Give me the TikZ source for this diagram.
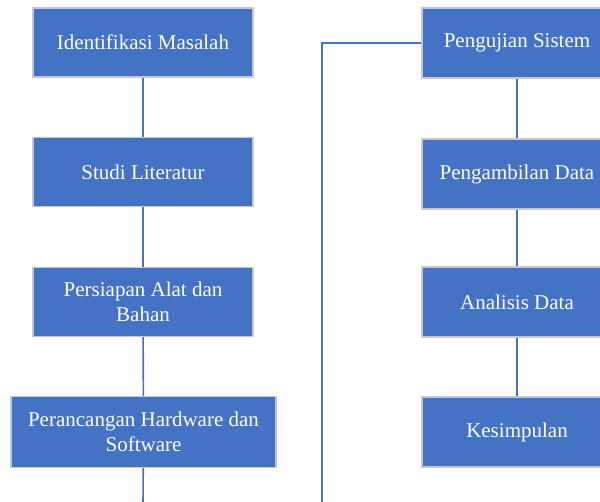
\documentclass[tikz,border=0pt]{standalone}
\usepackage{fontspec}
\setmainfont{Liberation Serif}
\usetikzlibrary{positioning, calc}

\definecolor{stepblue}{HTML}{4472C4}
\definecolor{stepedge}{HTML}{C8C8C8}

\begin{document}
\begin{tikzpicture}[x=1pt, y=-1pt]
    % --- Style Definitions ---
    \tikzset{
        stepbox/.style={
            draw=stepedge,
            line width=1.2pt,
            fill=stepblue,
            text=white,
            font=\fontsize{21}{25}\selectfont,
            align=center,
            inner sep=0pt
        },
        flow line/.style={
            draw=stepblue,
            line width=1.6pt
        }
    }

    % Page frame
    \useasboundingbox (0,0) rectangle (600,502);
    \clip (0,0) rectangle (600,502);

    % --- 1. Left column ---
    \node[stepbox, minimum width=220pt, minimum height=69pt] (identifikasi) at (143,42.5) {Identifikasi Masalah};
    \node[stepbox, minimum width=220pt, minimum height=69pt] (studi) at (143,172) {Studi Literatur};
    \node[stepbox, minimum width=220pt, minimum height=69pt] (persiapan) at (143,302) {Persiapan Alat dan\\Bahan};
    \node[stepbox, minimum width=265pt, minimum height=71pt] (perancangan) at (143.5,432) {Perancangan Hardware dan\\Software};

    % --- 2. Right column (cut at the page edge) ---
    \node[stepbox, minimum width=190pt, minimum height=70pt] (pengujian) at (517,43) {Pengujian Sistem};
    \node[stepbox, minimum width=190pt, minimum height=70pt] (pengambilan) at (517,174) {Pengambilan Data};
    \node[stepbox, minimum width=190pt, minimum height=70pt] (analisis) at (517,302) {Analisis Data};
    \node[stepbox, minimum width=190pt, minimum height=70pt] (kesimpulan) at (517,432) {Kesimpulan};

    % --- 3. Connectors ---
    \coordinate (leftend) at (143,505);
    \coordinate (rightend) at (322,505);

    \draw[flow line] (identifikasi) -- (studi);
    \draw[flow line] (studi) -- (persiapan);
    \draw[flow line] (persiapan) -- (perancangan);
    \draw[flow line] (perancangan) -- (leftend);

    \draw[flow line] (rightend) |- (pengujian.west);
    \draw[flow line] (pengujian) -- (pengambilan);
    \draw[flow line] (pengambilan) -- (analisis);
    \draw[flow line] (analisis) -- (kesimpulan);

\end{tikzpicture}
\end{document}
